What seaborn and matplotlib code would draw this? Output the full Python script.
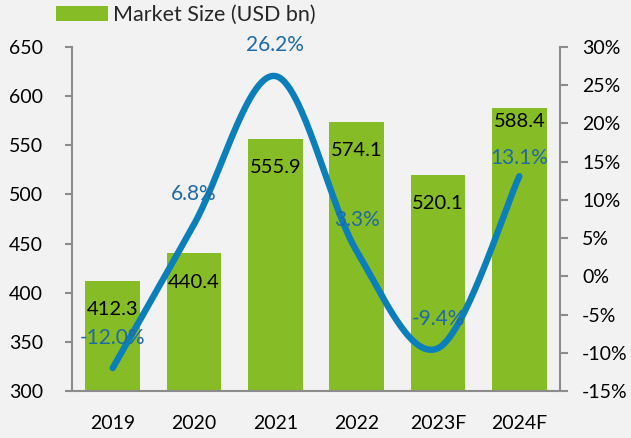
import numpy as np
import pandas as pd
import matplotlib
matplotlib.use("Agg")
import matplotlib.pyplot as plt
from matplotlib.patches import Patch
import seaborn as sns

years = ["2019", "2020", "2021", "2022", "2023F", "2024F"]
market_size = [412.3, 440.4, 555.9, 574.1, 520.1, 588.4]
growth_pct = [-12.0, 6.8, 26.2, 3.3, -9.4, 13.1]
size_labels = ["412.3", "440.4", "555.9", "574.1", "520.1", "588.4"]
growth_labels = ["-12.0%", "6.8%", "26.2%", "3.3%", "-9.4%", "13.1%"]
legend_label = "Market Size (USD bn)"

BG = "#f2f2f2"
GREEN = "#86bc25"
LINE_BLUE = "#0a7fba"
TEXT_BLUE = "#1f6aa5"
SPINE = "#8c8c8c"
FS = 14
LFS = 15.5

sns.set_theme(style="white")
plt.rcParams["font.family"] = ["Lato", "DejaVu Sans"]
plt.rcParams["axes.unicode_minus"] = False

fig = plt.figure(figsize=(6.31, 4.38), dpi=100, facecolor=BG)
ax = fig.add_axes([72 / 631, 1 - 391 / 438, (560 - 72) / 631, (391 - 47) / 438])
ax.set_facecolor(BG)

df = pd.DataFrame({"year": years, "size": market_size})
sns.barplot(data=df, x="year", y="size", color=GREEN, width=0.676,
            saturation=1, ax=ax, edgecolor="none")
ax.set_ylim(300, 650)
ax.set_xlim(-0.5, 5.5)
ax.set_yticks(np.arange(300, 651, 50))
ax.set_xlabel("")
ax.set_ylabel("")

# bar value labels (inside, near top)
label_drop = [29, 29, 28, 29, 29, 14]
for i, (v, s) in enumerate(zip(market_size, size_labels)):
    ax.annotate(s, (i, v), xytext=(0, -label_drop[i] * 0.72), textcoords="offset points",
                ha="center", va="center", fontsize=14.5, color="black")

# secondary axis with smoothed line (Excel-style Bezier smoothing)
ax2 = ax.twinx()
ax2.set_ylim(-15, 30)
ax2.set_yticks(np.arange(-15, 31, 5))
ax2.set_yticklabels([f"{t}%" for t in range(-15, 31, 5)])

xs = np.arange(len(growth_pct), dtype=float)
ys = np.array(growth_pct, dtype=float)
n = len(xs)
cx, cy = [], []
t = np.linspace(0, 1, 60)
for i in range(n - 1):
    p0 = np.array([xs[i], ys[i]])
    p3 = np.array([xs[i + 1], ys[i + 1]])
    pm = np.array([xs[i - 1], ys[i - 1]]) if i > 0 else p0
    pp = np.array([xs[i + 2], ys[i + 2]]) if i + 2 < n else p3
    p1 = p0 + (p3 - pm) / 6.0
    p2 = p3 - (pp - p0) / 6.0
    b = ((1 - t) ** 3)[:, None] * p0 + (3 * (1 - t) ** 2 * t)[:, None] * p1 \
        + (3 * (1 - t) * t ** 2)[:, None] * p2 + (t ** 3)[:, None] * p3
    cx.extend(b[:, 0])
    cy.extend(b[:, 1])
sns.lineplot(x=cx, y=cy, sort=False, ax=ax2, color=LINE_BLUE, linewidth=4.6,
             solid_capstyle="round", solid_joinstyle="round")

label_rise = [30, 30, 31, 31, 29, 18]
for i, (v, s) in enumerate(zip(growth_pct, growth_labels)):
    ax2.annotate(s, (i, v), xytext=(0, label_rise[i] * 0.72), textcoords="offset points",
                 ha="center", va="center", fontsize=15, color=TEXT_BLUE)

# spines and ticks
for a in (ax, ax2):
    a.spines["top"].set_visible(False)
    for sp in ("left", "right", "bottom"):
        a.spines[sp].set_color(SPINE)
        a.spines[sp].set_linewidth(1.5)
ax.spines["right"].set_visible(False)
ax2.spines["left"].set_visible(False)
ax2.spines["bottom"].set_visible(False)

ax.tick_params(axis="y", which="major", left=True, length=5, width=1.5, color=SPINE,
               pad=16, labelsize=FS, labelcolor="black")
ax.tick_params(axis="x", length=0, pad=17, labelsize=FS, labelcolor="black")
ax2.tick_params(axis="y", right=True, length=6, width=1.5, color=SPINE,
                pad=10, labelsize=FS, labelcolor="black")

fig.legend(handles=[Patch(facecolor=GREEN, edgecolor="none", label=legend_label)],
           loc="upper left", bbox_to_anchor=(56 / 631, 1 - 5 / 438), frameon=False,
           fontsize=LFS, handlelength=2.42, handleheight=0.65, handletextpad=0.25,
           borderpad=0, borderaxespad=0)

fig.savefig("out.png", dpi=100, facecolor=BG)
